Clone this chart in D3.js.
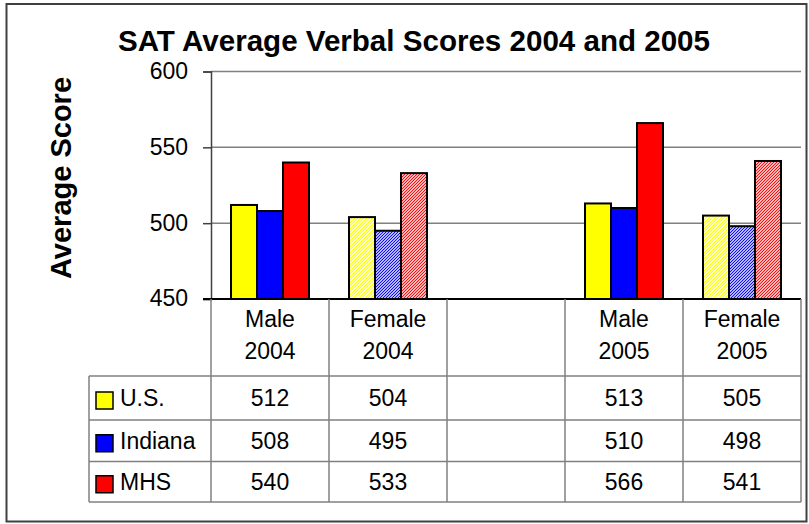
<!DOCTYPE html>
<html>
<head>
<meta charset="utf-8">
<script src="https://cdn.jsdelivr.net/npm/d3@7"></script>
<style>
  body { margin: 0; background: #fff; }
  text { font-family: "Liberation Sans", Arial, sans-serif; fill: #000; }
</style>
</head>
<body>
<div id="chart"></div>
<script>
// chart data
const categories = ["Male 2004", "Female 2004", "", "Male 2005", "Female 2005"];
const seriesNames = ["U.S.", "Indiana", "MHS"];
const seriesColors = ["#ffff00", "#0000ff", "#ff0000"];
const usScores = [512, 504, null, 513, 505];
const indianaScores = [508, 495, null, 510, 498];
const mhsScores = [540, 533, null, 566, 541];
const yTicks = [450, 500, 550, 600];

const seriesValues = [usScores, indianaScores, mhsScores];

const width = 809, height = 524;
const plotLeft = 211, plotRight = 801, plotTop = 71.5, plotBottom = 299;
const tableLeft = 89;
const rowLines = [376, 420, 461.5, 502];

const svg = d3.select("#chart")
    .append("svg")
    .attr("width", width)
    .attr("height", height);

// fine hatch patterns for the female bars
const defs = svg.append("defs");
seriesColors.forEach((c, i) => {
    const p = defs.append("pattern")
        .attr("id", "hatch" + i)
        .attr("width", 3)
        .attr("height", 3)
        .attr("patternUnits", "userSpaceOnUse");
    p.append("rect").attr("width", 3).attr("height", 3).attr("fill", "#fff");
    p.append("path")
        .attr("d", "M-1,1 l2,-2 M0,3 l3,-3 M2,4 l2,-2")
        .attr("stroke", c)
        .attr("stroke-width", 1.1);
});

// outer frame
svg.append("rect")
    .attr("x", 6.5).attr("y", 4)
    .attr("width", 800).attr("height", 517.5)
    .attr("fill", "none")
    .attr("stroke", "#404040")
    .attr("stroke-width", 2);

const x = d3.scaleBand()
    .domain(categories)
    .range([plotLeft, plotRight])
    .padding(0);

const xSub = d3.scaleBand()
    .domain(seriesNames)
    .range([0, x.bandwidth()])
    .paddingInner(0)
    .paddingOuter(0.77);

const y = d3.scaleLinear()
    .domain([450, 600])
    .range([plotBottom, plotTop]);

// gridlines
svg.append("g")
    .selectAll("line")
    .data(yTicks.filter(t => t > 450))
    .join("line")
    .attr("x1", plotLeft).attr("x2", plotRight)
    .attr("y1", d => y(d)).attr("y2", d => y(d))
    .attr("stroke", "#808080")
    .attr("stroke-width", 1.5);

// bars
const barData = [];
categories.forEach((cat, ci) => {
    seriesNames.forEach((s, si) => {
        const v = seriesValues[si][ci];
        if (v != null) barData.push({ cat, s, si, v });
    });
});

svg.append("g")
    .selectAll("rect")
    .data(barData)
    .join("rect")
    .attr("x", d => x(d.cat) + xSub(d.s))
    .attr("y", d => y(d.v))
    .attr("width", xSub.bandwidth())
    .attr("height", d => y(450) - y(d.v))
    .attr("fill", d => d.cat.startsWith("Female") ? `url(#hatch${d.si})` : seriesColors[d.si])
    .attr("stroke", "#000")
    .attr("stroke-width", 2);

// y axis
const yAxis = svg.append("g")
    .attr("transform", `translate(${plotLeft},0)`)
    .call(d3.axisLeft(y).tickValues(yTicks).tickSize(8).tickPadding(15).tickFormat(d3.format("d")));
yAxis.select(".domain").attr("stroke", "#404040").attr("stroke-width", 1.5);
yAxis.selectAll(".tick line").attr("stroke", "#404040").attr("stroke-width", 1.5);
yAxis.selectAll(".tick text")
    .attr("font-size", 23)
    .attr("font-family", "Liberation Sans, Arial, sans-serif")
    .attr("fill", "#000")
    .attr("dy", "0.3em");

// baseline
svg.append("line")
    .attr("x1", plotLeft - 8).attr("x2", plotRight)
    .attr("y1", y(450)).attr("y2", y(450))
    .attr("stroke", "#000")
    .attr("stroke-width", 2);

// data table grid
const grid = svg.append("g").attr("stroke", "#808080").attr("stroke-width", 1.5);
rowLines.forEach(ry => {
    grid.append("line")
        .attr("x1", tableLeft).attr("x2", plotRight)
        .attr("y1", ry).attr("y2", ry);
});
grid.append("line")
    .attr("x1", tableLeft).attr("x2", tableLeft)
    .attr("y1", rowLines[0]).attr("y2", rowLines[3]);
categories.forEach(cat => {
    grid.append("line")
        .attr("x1", x(cat)).attr("x2", x(cat))
        .attr("y1", plotBottom).attr("y2", rowLines[3]);
});
grid.append("line")
    .attr("x1", plotRight).attr("x2", plotRight)
    .attr("y1", plotBottom).attr("y2", rowLines[3]);

// category labels (header row)
categories.forEach(cat => {
    if (!cat) return;
    const t = svg.append("text")
        .attr("text-anchor", "middle")
        .attr("font-size", 23);
    cat.split(" ").forEach((p, i) => {
        t.append("tspan")
            .attr("x", x(cat) + x.bandwidth() / 2)
            .attr("y", 327 + i * 32)
            .text(p);
    });
});

// table rows
seriesNames.forEach((s, si) => {
    const top = rowLines[si], bot = rowLines[si + 1];
    const mid = (top + bot) / 2;
    svg.append("rect")
        .attr("x", 96).attr("y", mid - 6)
        .attr("width", 17).attr("height", 17)
        .attr("fill", seriesColors[si])
        .attr("stroke", "#000")
        .attr("stroke-width", 1.5);
    svg.append("text")
        .attr("x", 120).attr("y", mid + 8)
        .attr("font-size", 23)
        .text(s);
    categories.forEach((cat, ci) => {
        const v = seriesValues[si][ci];
        if (v == null) return;
        svg.append("text")
            .attr("x", x(cat) + x.bandwidth() / 2)
            .attr("y", mid + 8)
            .attr("text-anchor", "middle")
            .attr("font-size", 23)
            .text(v);
    });
});

// title
svg.append("text")
    .attr("x", 118).attr("y", 51)
    .attr("font-size", 29)
    .attr("font-weight", "bold")
    .attr("textLength", 592)
    .attr("lengthAdjust", "spacingAndGlyphs")
    .text("SAT Average Verbal Scores 2004 and 2005");

// y axis title
svg.append("text")
    .attr("transform", `translate(71,178) rotate(-90)`)
    .attr("text-anchor", "middle")
    .attr("font-size", 29)
    .attr("font-weight", "bold")
    .text("Average Score");
</script>
</body>
</html>
